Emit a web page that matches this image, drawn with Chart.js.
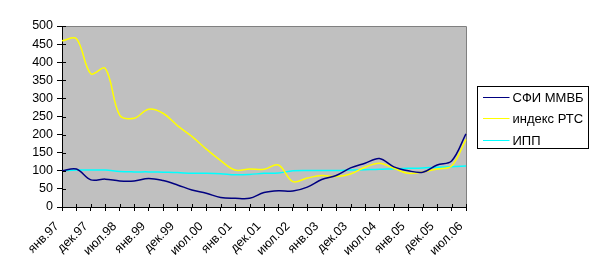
<!DOCTYPE html>
<html><head><meta charset="utf-8">
<script src="https://cdn.jsdelivr.net/npm/chart.js@4/dist/chart.umd.min.js"></script>
<style>html,body{margin:0;padding:0;background:#fff;}#wrap{width:599px;height:279px;}</style>
</head><body><div id="wrap"><canvas id="c" width="599" height="279"></canvas></div>
<script>
const tickLabels = ['янв.97','дек.97','июл.98','янв.99','дек.99','июл.00','янв.01','дек.01','июл.02','янв.03','дек.03','июл.04','янв.05','дек.05','июл.06'];
const seriesNames = ['СФИ ММВБ','индекс РТС','ИПП'];
const sfiMmvb = [100,105,75,77,72,72,79,73,61,47,38,26,24,24,40,45,44,55,76,87,108,121,134,111,100,96,116,127,202];
const rtsIndex = [459,465,368,383,254,245,270,259,225,195,160,128,102,105,104,116,70,80,87,84,91,110,121,107,93,97,105,113,187];
const ipp = [100,102,102,102,98,97,97,96,95,93,93,92,89,90,93,94,100,101,101,101,102,103,104,106,107,108,110,111,113];
const yTicks = [0,50,100,150,200,250,300,350,400,450,500];

// categories: labelled every second tick
const categories = [];
tickLabels.forEach((t,i)=>{ categories.push(t); if(i<tickLabels.length-1) categories.push(''); });

const colors = ['#000080','#FFFF00','#00FFFF'];
const FONT = '"Liberation Sans", Arial, sans-serif';

const bgPlugin = {
  id:'bg',
  beforeDraw(chart){
    const {ctx, chartArea:a} = chart;
    ctx.save();
    ctx.fillStyle = '#C0C0C0';
    ctx.fillRect(a.left, a.top, a.right-a.left, a.bottom-a.top);
    ctx.strokeStyle = '#808080'; ctx.lineWidth = 1;
    ctx.beginPath();
    ctx.moveTo(a.left, a.top+0.5); ctx.lineTo(a.right+0.5, a.top+0.5); ctx.lineTo(a.right+0.5, a.bottom);
    ctx.stroke();
    ctx.restore();
  },
  afterDraw(chart){
    const {ctx, chartArea:a} = chart;
    const xs = chart.scales.x, ys = chart.scales.y;
    ctx.save();
    ctx.strokeStyle = '#000'; ctx.lineWidth = 1;
    ctx.beginPath();
    for(let i=0;i<xs.ticks.length;i++){
      const x = Math.round(xs.getPixelForTick(i))+0.5;
      ctx.moveTo(x, a.bottom-3); ctx.lineTo(x, a.bottom);
    }
    for(let i=0;i<ys.ticks.length;i++){
      const y = Math.round(ys.getPixelForTick(i))+0.5;
      ctx.moveTo(a.left, y); ctx.lineTo(a.left+4, y);
    }
    ctx.stroke();
    // legend
    const bx = Math.round(a.right)+11.5, bw = 111, bh = 62;
    const by = Math.round((a.top+a.bottom)/2 - bh/2)+0.5;
    ctx.strokeStyle='#000'; ctx.lineWidth=1;
    ctx.fillStyle='#fff';
    ctx.fillRect(bx,by,bw,bh);
    ctx.strokeRect(bx,by,bw,bh);
    ctx.font = '13px '+FONT;
    ctx.textBaseline='middle'; ctx.textAlign='left';
    chart.data.datasets.forEach((ds,i)=>{
      const cy = Math.round(by + 10.5 + i*21.3)+0.5;
      ctx.strokeStyle = ds.borderColor; ctx.lineWidth = 1;
      ctx.beginPath(); ctx.moveTo(bx+5.5, cy); ctx.lineTo(bx+32, cy); ctx.stroke();
      ctx.fillStyle='#000';
      ctx.fillText(ds.label, bx+35, cy+0.5);
    });
    ctx.restore();
  }
};

new Chart(document.getElementById('c'), {
  type:'line',
  data:{
    labels: categories,
    datasets:[
      {label:seriesNames[0], data:sfiMmvb, borderColor:colors[0]},
      {label:seriesNames[1], data:rtsIndex, borderColor:colors[1]},
      {label:seriesNames[2], data:ipp, borderColor:colors[2]}
    ].map(d=>Object.assign(d,{borderWidth:1.5, pointRadius:0, pointHoverRadius:0, tension:0.35, fill:false}))
  },
  options:{
    responsive:false, animation:false, devicePixelRatio:1,
    layout:{padding:{left:0, top:26, right:133, bottom:0}},
    plugins:{legend:{display:false}, tooltip:{enabled:false}},
    scales:{
      x:{
        offset:false,
        grid:{drawOnChartArea:false, drawTicks:true, tickLength:4, color:'#000'},
        border:{color:'#000', width:1},
        ticks:{autoSkip:false, maxRotation:45, minRotation:45, color:'#000', padding:8, labelOffset:-5,
               font:{family:FONT, size:12.5}},
        afterFit(s){ s.height = 72; }
      },
      y:{
        min:0, max:500,
        afterBuildTicks(s){ s.ticks = yTicks.map(v=>({value:v})); },
        grid:{drawOnChartArea:false, drawTicks:true, tickLength:5, color:'#000'},
        border:{color:'#000', width:1},
        ticks:{color:'#000', padding:4, font:{family:FONT, size:12.5}},
        afterFit(s){ s.width = 62; }
      }
    }
  },
  plugins:[bgPlugin]
});
</script></body></html>
